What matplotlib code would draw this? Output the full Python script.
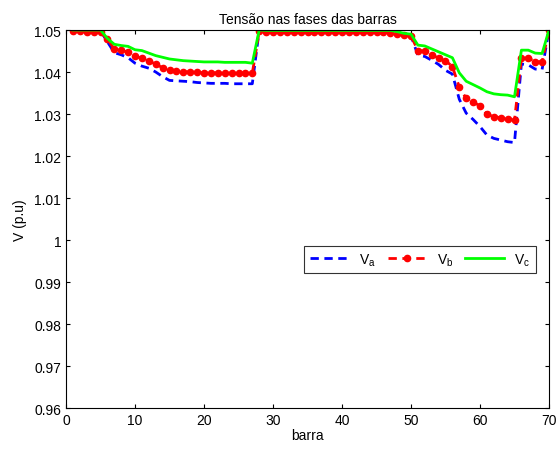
import numpy as np
import matplotlib
matplotlib.use('Agg')
import matplotlib.pyplot as plt

plt.rcParams['font.family'] = ['Liberation Sans', 'DejaVu Sans']

barra = np.arange(1, 71)

va = [1.0500, 1.0500, 1.0499, 1.0499, 1.0498, 1.0472, 1.0446, 1.0441, 1.0434, 1.0421,
      1.0414, 1.0409, 1.0400, 1.0389, 1.0380, 1.0379, 1.0378, 1.0377, 1.0375, 1.0374,
      1.0373, 1.0373, 1.0373, 1.0372, 1.0372, 1.0372, 1.0372, 1.0499, 1.0499, 1.0499,
      1.0499, 1.0499, 1.0499, 1.0499, 1.0499, 1.0498, 1.0498, 1.0498, 1.0498, 1.0498,
      1.0498, 1.0498, 1.0497, 1.0497, 1.0497, 1.0497, 1.0496, 1.0494, 1.0488, 1.0486,
      1.0440, 1.0437, 1.0428, 1.0418, 1.0404, 1.0395, 1.0335, 1.0302, 1.0287, 1.0270,
      1.0250, 1.0242, 1.0238, 1.0234, 1.0232, 1.0419, 1.0417, 1.0407, 1.0406, 1.0500]

vb = [1.0497, 1.0497, 1.0496, 1.0496, 1.0495, 1.0478, 1.0455, 1.0452, 1.0447, 1.0437,
      1.0433, 1.0426, 1.0419, 1.0410, 1.0405, 1.0402, 1.0401, 1.0400, 1.0399, 1.0398,
      1.0398, 1.0398, 1.0397, 1.0397, 1.0397, 1.0397, 1.0397, 1.0497, 1.0496, 1.0496,
      1.0496, 1.0496, 1.0496, 1.0496, 1.0496, 1.0496, 1.0496, 1.0496, 1.0496, 1.0496,
      1.0496, 1.0495, 1.0495, 1.0495, 1.0495, 1.0495, 1.0494, 1.0490, 1.0487, 1.0486,
      1.0451, 1.0450, 1.0441, 1.0433, 1.0427, 1.0413, 1.0364, 1.0337, 1.0329, 1.0319,
      1.0299, 1.0294, 1.0291, 1.0288, 1.0285, 1.0433, 1.0433, 1.0425, 1.0424, 1.0500]

vc = [1.0500, 1.0500, 1.0500, 1.0500, 1.0500, 1.0480, 1.0466, 1.0463, 1.0461, 1.0453,
      1.0451, 1.0445, 1.0439, 1.0435, 1.0431, 1.0429, 1.0427, 1.0426, 1.0425, 1.0424,
      1.0424, 1.0424, 1.0423, 1.0423, 1.0423, 1.0423, 1.0421, 1.0500, 1.0499, 1.0499,
      1.0499, 1.0499, 1.0499, 1.0499, 1.0499, 1.0499, 1.0499, 1.0499, 1.0499, 1.0499,
      1.0499, 1.0499, 1.0499, 1.0499, 1.0499, 1.0499, 1.0499, 1.0496, 1.0492, 1.0490,
      1.0464, 1.0462, 1.0455, 1.0448, 1.0441, 1.0434, 1.0398, 1.0378, 1.0370, 1.0362,
      1.0353, 1.0348, 1.0346, 1.0345, 1.0341, 1.0452, 1.0452, 1.0445, 1.0444, 1.0500]

fig = plt.figure(figsize=(5.6, 4.52), dpi=100)
ax = fig.add_axes([66/560, 1-409/452, (549-66)/560, (409-31)/452])

ax.plot(barra, va, color='#0000ff', linestyle='--', linewidth=2, dashes=(3, 2),
        label='V$_\\mathregular{a}$')
ax.plot(barra, vb, color='#ff0000', linestyle='--', linewidth=2, dashes=(3, 2), marker='o',
        markersize=4.5, label='V$_\\mathregular{b}$')
ax.plot(barra, vc, color='#00ff00', linestyle='-', linewidth=2, label='V$_\\mathregular{c}$')

ax.set_xlim(0, 70)
ax.set_ylim(0.96, 1.05)
ax.set_xticks(np.arange(0, 71, 10))
yt = np.arange(0.96, 1.0501, 0.01)
ax.set_yticks(yt)
ax.set_yticklabels(['%g' % round(v, 2) for v in yt])
ax.tick_params(direction='in', top=True, right=True, length=3, labelsize=10, width=0.8)
for s in ax.spines.values():
    s.set_linewidth(0.8)

ax.set_title('Tensão nas fases das barras', fontsize=10, pad=5)
ax.set_xlabel('barra', fontsize=10, labelpad=1)
ax.set_ylabel('V (p.u)', fontsize=10, labelpad=5)

leg = ax.legend(loc='center', bbox_to_anchor=(0.733, 0.393), ncol=3, fontsize=10,
                frameon=True, fancybox=False, edgecolor='black', handlelength=2.8,
                columnspacing=0.9, handletextpad=0.7, borderpad=0.4)
leg.get_frame().set_linewidth(0.8)

fig.savefig('out.png', dpi=100)
